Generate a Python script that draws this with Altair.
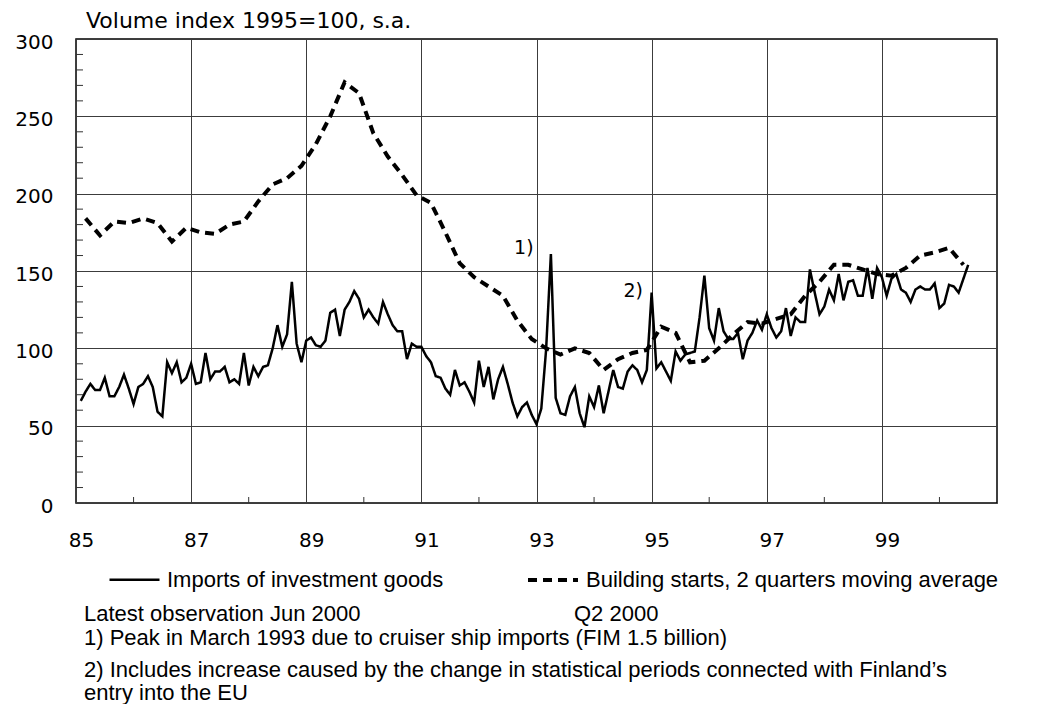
import altair as alt
import pandas as pd

# ---------------- data ----------------
LABEL_IMP = "Imports of investment goods"
LABEL_BLD = "Building starts, 2 quarters moving average"

# monthly, Jan 1985 .. Jun 2000
IMPORTS = [
    66, 72, 77, 73, 73, 81, 69, 69, 75, 83, 74, 64,            # 1985
    75, 77, 82, 75, 59, 56, 91, 84, 91, 78, 81, 90,            # 1986
    77, 78, 97, 80, 85, 85, 88, 78, 80, 77, 97, 76,            # 1987
    88, 82, 88, 89, 100, 115, 101, 109, 143, 103, 91, 105,     # 1988
    107, 102, 101, 105, 123, 125, 108, 125, 130, 137, 132, 120,  # 1989
    125, 120, 116, 130, 122, 115, 111, 111, 93, 103, 101, 101,   # 1990
    95, 91, 82, 81, 74, 70, 86, 76, 78, 72, 65, 92,            # 1991
    75, 88, 67, 80, 88, 77, 65, 56, 62, 65, 57, 51,            # 1992
    61, 99, 161, 68, 58, 57, 69, 75, 58, 49, 69, 62,           # 1993
    76, 58, 72, 86, 75, 74, 85, 89, 86, 78, 86, 136,           # 1994
    87, 91, 85, 79, 98, 92, 96, 97, 98, 120, 147, 113,         # 1995
    105, 126, 111, 106, 106, 110, 93, 105, 110, 118, 112, 122,   # 1996
    113, 107, 111, 126, 108, 120, 117, 117, 151, 136, 122, 127,  # 1997
    138, 131, 148, 131, 143, 144, 134, 134, 152, 132, 152, 146,  # 1998
    134, 145, 148, 138, 136, 130, 138, 140, 138, 138, 142, 126,  # 1999
    129, 141, 140, 136, 145, 154,                              # 2000
]

# quarterly, Q1 1985 .. Q2 2000
BUILDING = [
    184, 173, 182, 181,   # 1985
    184, 181, 169, 178,   # 1986
    175, 174, 180, 182,   # 1987
    195, 206, 210, 218,   # 1988
    232, 250, 272, 265,   # 1989
    239, 224, 212, 199,   # 1990
    194, 175, 155, 146,   # 1991
    140, 134, 118, 106,   # 1992
    100, 96, 100, 97,     # 1993
    86, 93, 97, 99,       # 1994
    114, 110, 91, 92,     # 1995
    100, 109, 117, 116,   # 1996
    119, 122, 134, 143,   # 1997
    154, 154, 151, 148,   # 1998
    147, 152, 160, 162,   # 1999
    165, 154,             # 2000
]

X_LABEL_YEARS = [1985, 1987, 1989, 1991, 1993, 1995, 1997, 1999]
X_MINOR_YEARS = [1986, 1988, 1990, 1992, 1994, 1996, 1998, 2000]
Y_MAJOR = [0, 50, 100, 150, 200, 250, 300]
Y_MINOR = [v for v in range(10, 300, 10) if v % 50]

ANNOT_LABELS = ["1)", "2)"]
ANNOT_T = [1992.95, 1994.85]
ANNOT_V = [165, 137]

TITLE = "Volume index 1995=100, s.a."
FOOT_LATEST = "Latest observation Jun 2000"
FOOT_Q2 = "Q2 2000"
FOOT_1 = "1) Peak in March 1993 due to cruiser ship  imports (FIM 1.5 billion)"
FOOT_2 = "2) Includes increase caused by the change in statistical periods connected with Finland\u2019s"
FOOT_3 = "entry  into the EU"

# ---------------- tables ----------------
rows = []
for i, v in enumerate(IMPORTS):
    rows.append({"t": 1985 + (i + 1) / 12, "value": v, "series": LABEL_IMP})
for i, v in enumerate(BUILDING):
    rows.append({"t": 1985 + (3 * i + 2) / 12, "value": v, "series": LABEL_BLD})
df = pd.DataFrame(rows)

ann = pd.DataFrame({"label": ANNOT_LABELS, "t": ANNOT_T, "value": ANNOT_V})
yminor = pd.DataFrame({"value": Y_MINOR})
xminor = pd.DataFrame({"t": X_MINOR_YEARS})
one = pd.DataFrame({"k": [0]})

W, H = 921, 464
xscale = alt.Scale(domain=[1985, 2001], nice=False, zero=False)
yscale = alt.Scale(domain=[0, 300], nice=False)

AXIS_FONT = "DejaVu Sans"
TEXT_FONT = "Liberation Sans"

X_AXIS = alt.Axis(values=X_LABEL_YEARS, labelExpr="substring(toString(datum.value), 2)",
                  title=None, grid=True, labelPadding=27, labelOffset=5, labelFlush=False,
                  domain=False, ticks=False, tickSize=0)
Y_AXIS = alt.Axis(values=Y_MAJOR, title=None, grid=True, labelPadding=23, labelOffset=3,
                  domain=False, ticks=False, tickSize=0)

lines = alt.Chart(df).mark_line(color="black").encode(
    x=alt.X("t:Q", scale=xscale, axis=X_AXIS),
    y=alt.Y("value:Q", scale=yscale, axis=Y_AXIS),
    strokeDash=alt.StrokeDash("series:N", scale=alt.Scale(
        domain=[LABEL_IMP, LABEL_BLD], range=[[1, 0], [9, 6]]),
        legend=alt.Legend(orient="none", legendX=32, legendY=514, direction="horizontal",
                          title=None, symbolType="stroke", symbolSize=2500,
                          symbolStrokeWidth=3, symbolStrokeColor="black",
                          labelFont=TEXT_FONT, labelFontSize=22, labelColor="black",
                          labelLimit=1000, columnPadding=76, labelOffset=6, padding=0)),
    strokeWidth=alt.StrokeWidth("series:N", scale=alt.Scale(
        domain=[LABEL_IMP, LABEL_BLD], range=[2.5, 4]), legend=None),
)

ytick = alt.Chart(yminor).mark_rule(color="#333333", strokeWidth=1).encode(
    y=alt.Y("value:Q", scale=yscale, axis=Y_AXIS), x=alt.value(0), x2=alt.value(7))
xtick = alt.Chart(xminor).mark_rule(color="#333333", strokeWidth=1).encode(
    x=alt.X("t:Q", scale=xscale, axis=X_AXIS), y=alt.value(H), y2=alt.value(H - 6))

annot = alt.Chart(ann).mark_text(align="right", baseline="middle", font=AXIS_FONT,
                                 fontSize=19, color="black").encode(
    x=alt.X("t:Q", scale=xscale, axis=X_AXIS),
    y=alt.Y("value:Q", scale=yscale, axis=Y_AXIS),
    text="label:N")


def label(txt, x, y, font=TEXT_FONT, size=22, baseline="middle"):
    return alt.Chart(one).mark_text(text=txt, align="left", baseline=baseline, font=font,
                                    fontSize=size, color="black").encode(
        x=alt.value(x), y=alt.value(y))


texts = [
    label(TITLE, 10, -11, font=AXIS_FONT, size=22, baseline="alphabetic"),
    label(FOOT_LATEST, 8, 575),
    label(FOOT_Q2, 498, 575),
    label(FOOT_1, 8, 599),
    label(FOOT_2, 8, 631),
    label(FOOT_3, 8, 654),
]

chart = alt.layer(lines, ytick, xtick, annot, *texts).properties(
    width=W, height=H,
    autosize=alt.AutoSizeParams(type="none"),
    padding={"left": 68, "top": 31, "right": 34, "bottom": 201},
).configure_view(stroke="black", strokeWidth=1.5).configure_axis(
    gridColor="#3c3c3c", gridWidth=1, gridOpacity=1,
    labelFont=AXIS_FONT, labelFontSize=20, labelColor="black",
)

chart.save("out.html", embed_options={"renderer": "svg", "actions": False})
